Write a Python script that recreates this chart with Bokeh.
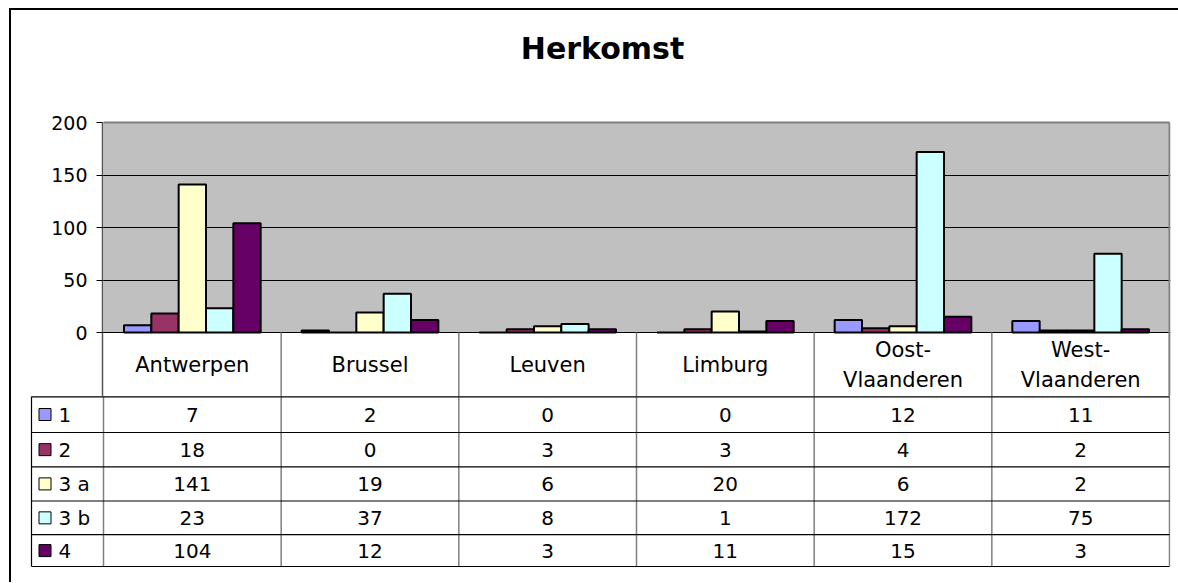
from bokeh.plotting import figure
from bokeh.models import FactorRange, Range1d, FixedTicker, Spacer, ColumnDataSource, BoxAnnotation
from bokeh.layouts import column, row
from bokeh.transform import dodge
from bokeh.core.properties import value
from bokeh.embed import file_html
from bokeh.resources import INLINE

# ---------------- data ----------------
categories = ["Antwerpen", "Brussel", "Leuven", "Limburg", "Oost-Vlaanderen", "West-Vlaanderen"]
header_labels = ["Antwerpen", "Brussel", "Leuven", "Limburg", "Oost-\nVlaanderen", "West-\nVlaanderen"]
series_names = ["1", "2", "3 a", "3 b", "4"]
s1 = [7, 2, 0, 0, 12, 11]
s2 = [18, 0, 3, 3, 4, 2]
s3a = [141, 19, 6, 20, 6, 2]
s3b = [23, 37, 8, 1, 172, 75]
s4 = [104, 12, 3, 11, 15, 3]
colors = ["#9999FF", "#993366", "#FFFFCC", "#CCFFFF", "#660066"]
y_ticks = [0, 50, 100, 150, 200]
title_text = "Herkomst"

series = [s1, s2, s3a, s3b, s4]
keys = ["s1", "s2", "s3a", "s3b", "s4"]

FONT = "DejaVu Sans"
W = 1167
TOP = 112           # space above the plot area (px)
HDR = 64            # header row height (px)
PLOT_H = 210        # plot area height (px)
HA = TOP + PLOT_H + HDR
HB = 186
YMAX = 200
UPP = YMAX / PLOT_H                 # data units per pixel
y_min = -HDR * UPP
y_top = YMAX + TOP * UPP
CAT_PX = 1066 / 6                   # category width in px
PX = 1 / CAT_PX                     # one pixel in category units
n = len(categories)

# ---------------- chart + category header ----------------
src = ColumnDataSource(dict(cat=categories, hdr=header_labels, **{k: v for k, v in zip(keys, series)}))

pA = figure(width=W, height=HA,
            x_range=FactorRange(*categories, range_padding=PX, range_padding_units="absolute"),
            y_range=Range1d(y_min, y_top),
            output_backend="svg", toolbar_location=None, x_axis_location=None,
            min_border_left=91, min_border_right=8, min_border_top=0, min_border_bottom=0)
pA.background_fill_color = "white"
pA.border_fill_color = "white"
pA.outline_line_color = None

pA.add_layout(BoxAnnotation(bottom=0, top=YMAX, left=0, right=n, fill_color="#C0C0C0", fill_alpha=1.0,
                            line_color=None, level="image"))

pA.xgrid.visible = False
pA.ygrid.ticker = FixedTicker(ticks=[0, 50, 100, 150])
pA.ygrid.grid_line_color = "black"
pA.ygrid.grid_line_width = 1.2
pA.ygrid.bounds = (0, n)

bw = 1 / 6.5
for k, (key, col) in enumerate(zip(keys, colors)):
    pA.vbar(x=dodge("cat", (k - 2) * bw, range=pA.x_range), top=key, width=bw, source=src,
            fill_color=col, line_color="black", line_width=2)

# plot-area border (top and right) and category boundaries through the header row
pA.segment(x0=[0], y0=[YMAX], x1=[n], y1=[YMAX], line_color="#808080", line_width=2)
pA.segment(x0=[n], y0=[YMAX], x1=[n], y1=[y_min], line_color="#808080", line_width=2)
pA.segment(x0=dodge("cat", 0.5, range=pA.x_range), y0=0, x1=dodge("cat", 0.5, range=pA.x_range),
           y1=y_min, source=src, line_color="#808080", line_width=1.5)
pA.text(x="cat", y=y_min / 2, text="hdr", source=src, text_align="center", text_baseline="middle",
        text_font=value(FONT), text_font_size="21px", text_color="black", text_line_height=1.25)

# chart title
pA.text(x=[n / 2 - 34 * PX], y=[YMAX + 74 * UPP], text=[title_text], text_align="center",
        text_baseline="middle", text_font=value(FONT), text_font_size="30px",
        text_font_style="bold", text_color="black")

ya = pA.yaxis[0]
ya.ticker = FixedTicker(ticks=y_ticks)
ya.bounds = (y_min, YMAX)
ya.major_tick_out = 6
ya.major_tick_in = 0
ya.minor_tick_line_color = None
ya.major_tick_line_color = "black"
ya.axis_line_color = "#555555"
ya.axis_line_width = 1.5
ya.major_label_text_font = FONT
ya.major_label_text_font_size = "19px"
ya.major_label_text_color = "black"
ya.major_label_standoff = 9

# ---------------- data table ----------------
pB = figure(width=W, height=HB, x_range=Range1d(-74 * PX, n + 1 * PX), y_range=Range1d(HB, 0),
            output_backend="svg", toolbar_location=None, x_axis_location=None, y_axis_location=None,
            min_border=0, min_border_left=18, min_border_right=8)
pB.grid.visible = False
pB.outline_line_color = None
pB.background_fill_color = "white"
pB.border_fill_color = "white"

edges = [0, 36, 70.3, 104.5, 138.2, 170]
row_centers = [(edges[i] + edges[i + 1]) / 2 for i in range(5)]
lx = -72 * PX

pB.segment(x0=list(range(n + 1)), y0=[0] * (n + 1), x1=list(range(n + 1)), y1=[edges[-1]] * (n + 1),
           line_color="#808080", line_width=1.5)
pB.segment(x0=[lx] * len(edges), y0=edges, x1=[n] * len(edges), y1=edges, line_color="black", line_width=1.2)
pB.segment(x0=[lx], y0=[0], x1=[n], y1=[0], line_color="black", line_width=2)
pB.segment(x0=[lx], y0=[edges[0]], x1=[lx], y1=[edges[-1]], line_color="black", line_width=1.2)

pB.rect(x=[lx + 13.5 * PX] * 5, y=row_centers, width=12, height=12, width_units="screen",
        height_units="screen", fill_color=colors, line_color="black", line_width=1)
pB.text(x=[lx + 27 * PX] * 5, y=row_centers, text=series_names, text_align="left",
        text_baseline="middle", text_font=value(FONT), text_font_size="20px", text_color="black")

for r, vals in enumerate(series):
    pB.text(x=[i + 0.5 for i in range(n)], y=[row_centers[r]] * n, text=[str(v) for v in vals],
            text_align="center", text_baseline="middle", text_font=value(FONT),
            text_font_size="20px", text_color="black")

top_bar = Spacer(width=W, height=2, styles={"background-color": "black"})
left_bar = Spacer(width=2, height=2 + HA + HB, styles={"background-color": "black"})
layout = column(Spacer(width=W + 11, height=8),
                row(Spacer(width=9, height=2 + HA + HB), left_bar,
                    column(top_bar, row(pA), row(pB))))

open("out.html", "w").write(file_html(layout, INLINE, title="Herkomst"))
